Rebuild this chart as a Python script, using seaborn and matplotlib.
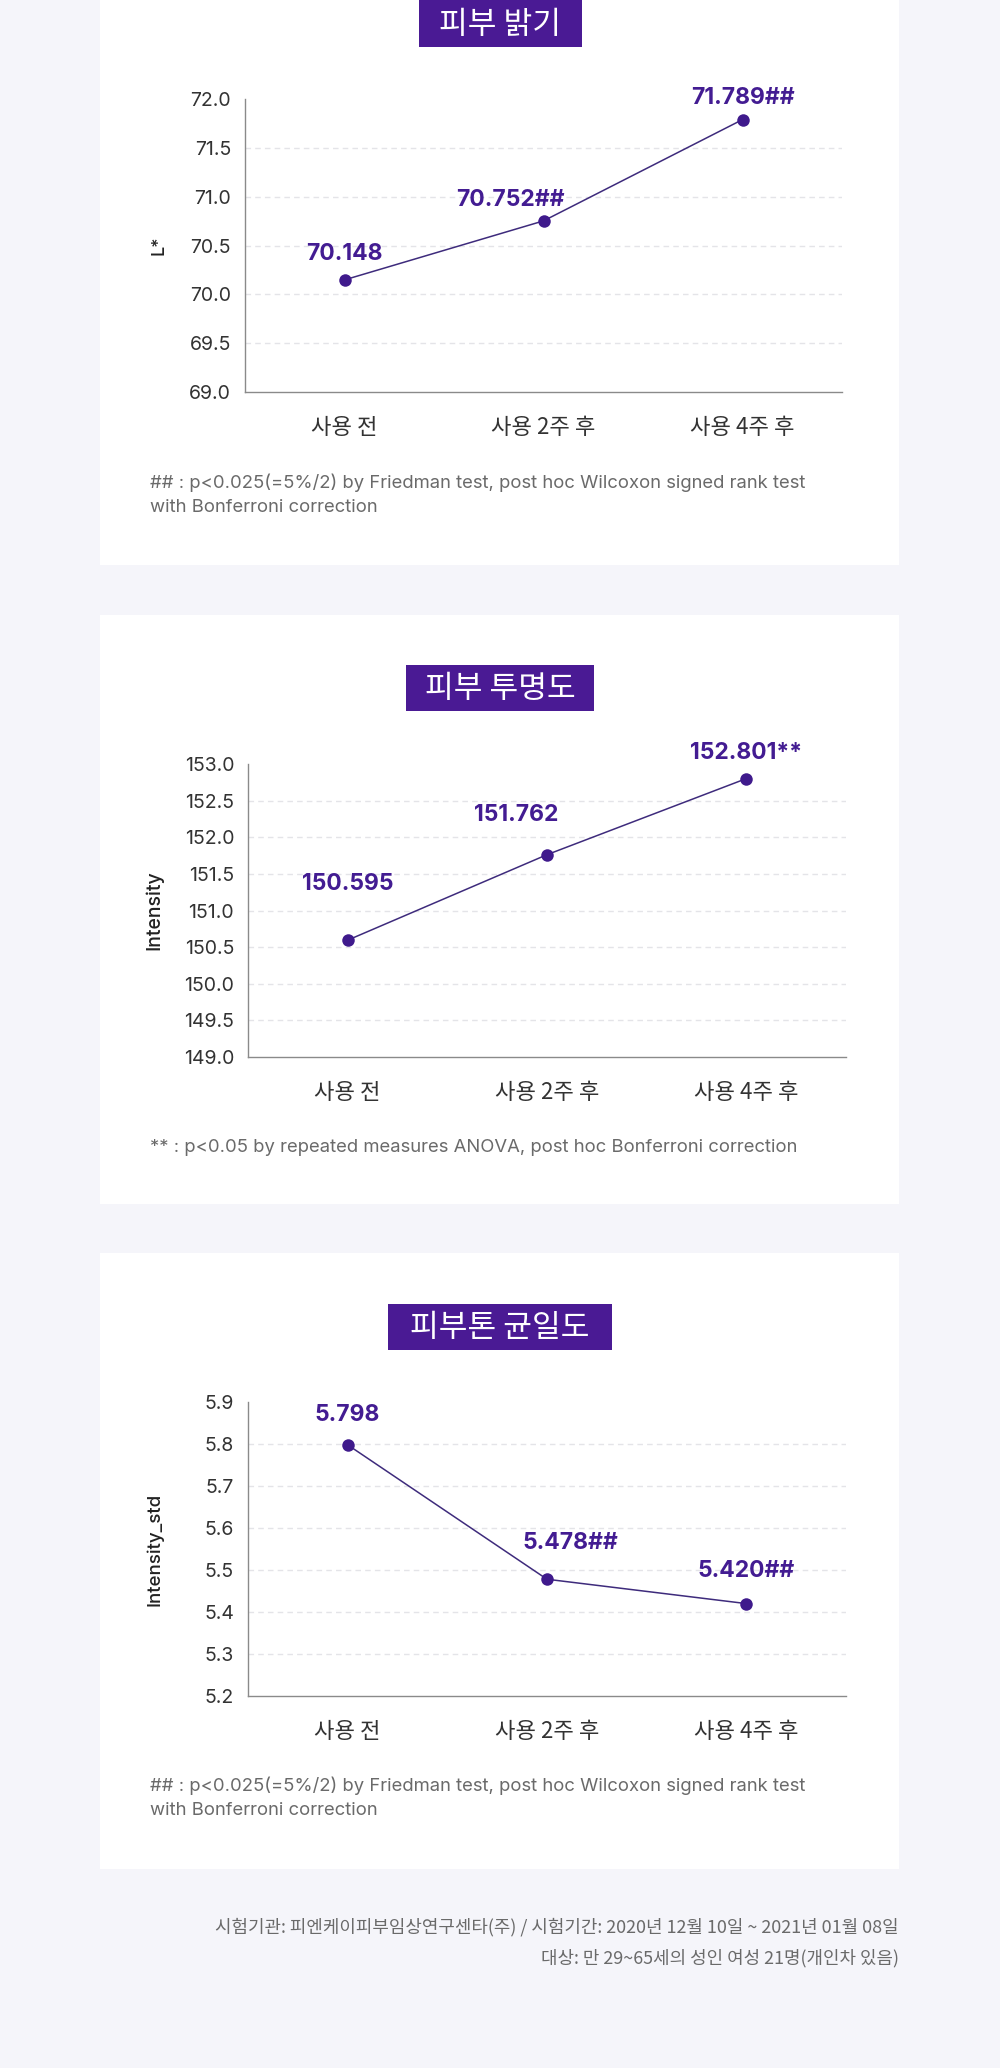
import matplotlib
matplotlib.use("Agg")
import matplotlib.pyplot as plt
from matplotlib.patches import Rectangle
import seaborn as sns
import pandas as pd

# ---------------- data ----------------
categories = ["사용 전", "사용 2주 후", "사용 4주 후"]

brightness_values = [70.148, 70.752, 71.789]
brightness_labels = ["70.148", "70.752##", "71.789##"]
brightness_ticks = [69.0, 69.5, 70.0, 70.5, 71.0, 71.5, 72.0]

clarity_values = [150.595, 151.762, 152.801]
clarity_labels = ["150.595", "151.762", "152.801**"]
clarity_ticks = [149.0, 149.5, 150.0, 150.5, 151.0, 151.5, 152.0, 152.5, 153.0]

evenness_values = [5.798, 5.478, 5.420]
evenness_labels = ["5.798", "5.478##", "5.420##"]
evenness_ticks = [5.2, 5.3, 5.4, 5.5, 5.6, 5.7, 5.8, 5.9]

titles = ["피부 밝기", "피부 투명도", "피부톤 균일도"]
ylabels = ["L*", "Intensity", "Intensity_std"]
footnotes = [
    "## : p<0.025(=5%/2) by Friedman test, post hoc Wilcoxon signed rank test\nwith Bonferroni correction",
    "** : p<0.05 by repeated measures ANOVA, post hoc Bonferroni correction",
    "## : p<0.025(=5%/2) by Friedman test, post hoc Wilcoxon signed rank test\nwith Bonferroni correction",
]
footer_lines = [
    "시험기관: 피엔케이피부임상연구센타(주) / 시험기간: 2020년 12월 10일 ~ 2021년 01월 08일",
    "대상: 만 29~65세의 성인 여성 21명(개인차 있음)",
]

# ---------------- style ----------------
sns.set_theme(style="white")
FAM = ["Inter", "Noto Sans CJK KR", "DejaVu Sans"]
KFAM = ["Noto Sans CJK KR", "DejaVu Sans"]
plt.rcParams["font.family"] = FAM

W, H = 1000, 2068
BG = "#f5f5fa"
PURPLE = "#4a1a94"
LABEL_C = "#431c92"
LINE_C = "#3e2b7c"
MARK_C = "#3f1a8c"

fig = plt.figure(figsize=(W / 100, H / 100), dpi=100, facecolor=BG)

def fx(px):
    return px / W

def fy(py):
    return 1 - py / H

# layout (pixel boxes)
cards = [(100, 0, 899, 565), (100, 615, 899, 1204), (100, 1253, 899, 1869)]
title_boxes = [(419, -5, 582, 47), (406, 665, 594, 711), (388, 1304, 612, 1350)]
axes_boxes = [(245, 99, 842, 392), (248, 764, 846, 1057), (248, 1402, 846, 1696)]
ylabel_x = [-0.129, -0.142, -0.142]
ylabel_size = [13, 14, 13.5]
label_offsets = [
    [(0, 26), (-33, 21), (0, 22)],
    [(0, 56), (-31, 40), (0, 26)],
    [(0, 30), (23, 36), (0, 33)],
]
foot_y = [483, 1148, 1786]

series = [
    (brightness_values, brightness_labels, brightness_ticks),
    (clarity_values, clarity_labels, clarity_ticks),
    (evenness_values, evenness_labels, evenness_ticks),
]

for c in cards:
    fig.patches.append(Rectangle((fx(c[0]), fy(c[3])), fx(c[2] - c[0]), (c[3] - c[1]) / H,
                                 transform=fig.transFigure, facecolor="white",
                                 edgecolor="none", zorder=-2))

for i, (vals, labs, ticks) in enumerate(series):
    tb = title_boxes[i]
    fig.patches.append(Rectangle((fx(tb[0]), fy(tb[3])), fx(tb[2] - tb[0]), (tb[3] - tb[1]) / H,
                                 transform=fig.transFigure, facecolor=PURPLE,
                                 edgecolor="none", zorder=-1))
    fig.text(fx((tb[0] + tb[2]) / 2), fy((max(tb[1], 0) + tb[3]) / 2 + 1), titles[i],
             ha="center", va="center", color="white", fontsize=22.5,
             family=KFAM, fontweight="medium", zorder=2)

    ab = axes_boxes[i]
    ax = fig.add_axes([fx(ab[0]), fy(ab[3]), fx(ab[2] - ab[0]), (ab[3] - ab[1]) / H])
    ax.set_zorder(3)
    ax.set_facecolor("none")
    df = pd.DataFrame({"cat": categories, "val": vals})
    sns.pointplot(data=df, x="cat", y="val", ax=ax, color=LINE_C,
                  markers="o", linestyles="-", linewidth=1.1,
                  markersize=9, markerfacecolor=MARK_C, markeredgewidth=0, zorder=3)
    ax.set_xlim(-0.5, len(categories) - 0.5)
    ax.set_ylim(ticks[0], ticks[-1])
    ax.set_yticks(ticks)
    ax.set_yticklabels([f"{t:.1f}" for t in ticks])
    for t in ticks[1:-1]:
        ax.axhline(t, color="#e4e4e8", linewidth=1.0, linestyle=(0, (4, 3)), zorder=1)
    for s in ["top", "right"]:
        ax.spines[s].set_visible(False)
    for s in ["left", "bottom"]:
        ax.spines[s].set_color("#8a8a8a")
        ax.spines[s].set_linewidth(1.0)
    ax.tick_params(axis="y", length=0, pad=10, labelsize=14, labelcolor="#333333")
    ax.tick_params(axis="x", length=0, pad=17, labelsize=16, labelcolor="#333333")
    for lab in ax.get_xticklabels():
        lab.set_family(KFAM)
    ax.set_xlabel("")
    ax.set_ylabel(ylabels[i], fontsize=ylabel_size[i], color="#222222", fontweight="medium")
    ax.yaxis.set_label_coords(ylabel_x[i], 0.5)
    for j, (v, lab) in enumerate(zip(vals, labs)):
        ax.annotate(lab, xy=(j, v), xytext=label_offsets[i][j], textcoords="offset pixels",
                    ha="center", va="center", fontsize=16.5, fontweight="bold",
                    color=LABEL_C, annotation_clip=False)

    for k, ln in enumerate(footnotes[i].split("\n")):
        fig.text(fx(150), fy(foot_y[i] + 24.5 * k), ln, ha="left", va="center",
                 fontsize=13.3, color="#6a6a6a", family=FAM)

for k, ln in enumerate(footer_lines):
    fig.text(fx(899), fy(1927 + 31 * k), ln, ha="right", va="center",
             fontsize=12.9, color="#6a6a6a", family=KFAM)

fig.savefig("out.png", dpi=100, facecolor=BG)
